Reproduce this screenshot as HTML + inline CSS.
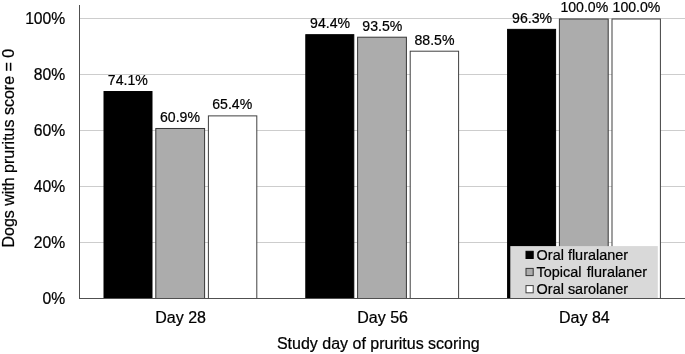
<!DOCTYPE html>
<html><head><meta charset="utf-8"><title>Chart</title>
<style>html,body{margin:0;padding:0;background:#fff;overflow:hidden}svg text{font-family:"Liberation Sans",sans-serif}body{width:685px;height:354px;position:relative}</style></head>
<body>
<svg width="685" height="354" viewBox="0 0 685 354" style="position:absolute;left:0;top:0;display:block" fill="#000" stroke="#000" stroke-width="0.22">
<rect x="0" y="0" width="685" height="354" fill="#ffffff" stroke="none"/>
<line x1="79.5" x2="685" y1="242.50" y2="242.50" stroke="#cdcdcd" stroke-width="1"/>
<line x1="79.5" x2="685" y1="186.50" y2="186.50" stroke="#cdcdcd" stroke-width="1"/>
<line x1="79.5" x2="685" y1="130.50" y2="130.50" stroke="#cdcdcd" stroke-width="1"/>
<line x1="79.5" x2="685" y1="74.50" y2="74.50" stroke="#cdcdcd" stroke-width="1"/>
<line x1="79.5" x2="685" y1="18.50" y2="18.50" stroke="#cdcdcd" stroke-width="1"/>
<rect x="104.00" y="91.52" width="48.00" height="206.98" fill="#000000" stroke="#000000" stroke-width="1"/>
<text transform="translate(127.80,84.82) scale(0.962,1)" font-size="14.67" text-anchor="middle">74.1%</text>
<rect x="155.80" y="128.48" width="48.80" height="170.02" fill="#acacac" stroke="#383838" stroke-width="1"/>
<text transform="translate(180.00,121.78) scale(0.962,1)" font-size="14.67" text-anchor="middle">60.9%</text>
<rect x="208.40" y="115.88" width="48.40" height="182.62" fill="#ffffff" stroke="#404040" stroke-width="1"/>
<text transform="translate(232.20,109.18) scale(0.962,1)" font-size="14.67" text-anchor="middle">65.4%</text>
<rect x="305.80" y="34.68" width="48.00" height="263.82" fill="#000000" stroke="#000000" stroke-width="1"/>
<text transform="translate(330.10,27.98) scale(0.962,1)" font-size="14.67" text-anchor="middle">94.4%</text>
<rect x="357.60" y="37.20" width="48.80" height="261.30" fill="#acacac" stroke="#383838" stroke-width="1"/>
<text transform="translate(382.30,30.50) scale(0.962,1)" font-size="14.67" text-anchor="middle">93.5%</text>
<rect x="410.20" y="51.20" width="48.40" height="247.30" fill="#ffffff" stroke="#404040" stroke-width="1"/>
<text transform="translate(434.50,44.50) scale(0.962,1)" font-size="14.67" text-anchor="middle">88.5%</text>
<rect x="507.60" y="29.36" width="48.00" height="269.14" fill="#000000" stroke="#000000" stroke-width="1"/>
<text transform="translate(532.10,22.66) scale(0.962,1)" font-size="14.67" text-anchor="middle">96.3%</text>
<rect x="559.40" y="19.00" width="48.80" height="279.50" fill="#acacac" stroke="#383838" stroke-width="1"/>
<text transform="translate(584.30,12.30) scale(0.962,1)" font-size="14.67" text-anchor="middle">100.0%</text>
<rect x="612.00" y="19.00" width="48.40" height="279.50" fill="#ffffff" stroke="#404040" stroke-width="1"/>
<text transform="translate(636.50,12.30) scale(0.962,1)" font-size="14.67" text-anchor="middle">100.0%</text>
<rect x="510.3" y="246.1" width="147.5" height="51.90" fill="#d9d9d9" stroke="none"/>
<rect x="526.0" y="251.30" width="7.2" height="7.2" fill="#000000" stroke="#000000" stroke-width="1"/>
<text transform="translate(536.6,260.00) scale(0.985,1)" font-size="14.67">Oral fluralaner</text>
<rect x="526.0" y="268.40" width="7.2" height="7.2" fill="#acacac" stroke="#383838" stroke-width="1"/>
<text transform="translate(536.6,277.10) scale(0.985,1)" font-size="14.67" word-spacing="1.3">Topical fluralaner</text>
<rect x="526.0" y="285.60" width="7.2" height="7.2" fill="#ffffff" stroke="#404040" stroke-width="1"/>
<text transform="translate(536.6,294.30) scale(0.985,1)" font-size="14.67">Oral sarolaner</text>
<line x1="79.5" x2="79.5" y1="5" y2="299.0" stroke="#505050" stroke-width="1"/>
<line x1="79.0" x2="685" y1="298.5" y2="298.5" stroke="#505050" stroke-width="1"/>
<text transform="translate(65.3,304.10) scale(0.982,1)" font-size="16" text-anchor="end">0%</text>
<text transform="translate(65.3,248.10) scale(0.982,1)" font-size="16" text-anchor="end">20%</text>
<text transform="translate(65.3,192.10) scale(0.982,1)" font-size="16" text-anchor="end">40%</text>
<text transform="translate(65.3,136.10) scale(0.982,1)" font-size="16" text-anchor="end">60%</text>
<text transform="translate(65.3,80.10) scale(0.982,1)" font-size="16" text-anchor="end">80%</text>
<text transform="translate(65.3,24.10) scale(0.982,1)" font-size="16" text-anchor="end">100%</text>
<text x="180.6" y="322.8" font-size="16" text-anchor="middle">Day 28</text>
<text x="382.6" y="322.8" font-size="16" text-anchor="middle">Day 56</text>
<text x="584.4" y="322.8" font-size="16" text-anchor="middle">Day 84</text>
<text x="378.3" y="349" font-size="16" text-anchor="middle">Study day of pruritus scoring</text>
<text transform="translate(13.7,148.2) rotate(-90)" font-size="16" text-anchor="middle">Dogs with pruritus score = 0</text>
</svg>
</body></html>
